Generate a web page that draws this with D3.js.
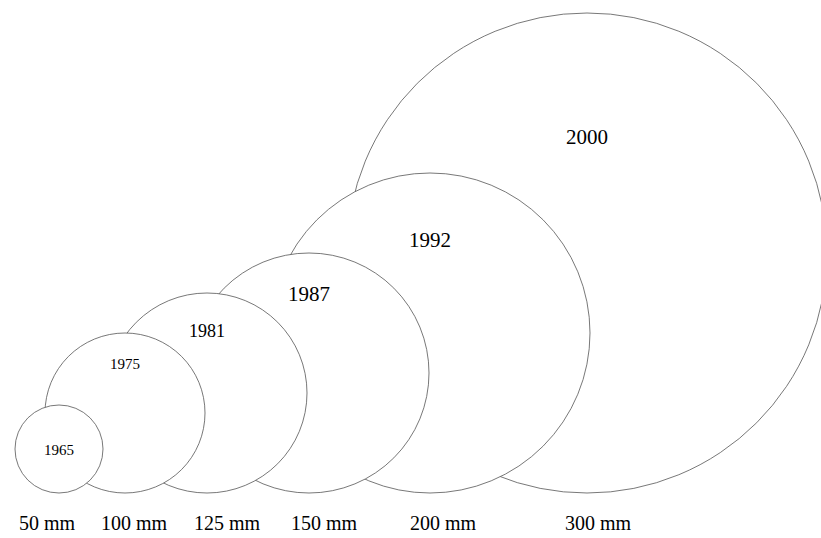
<!DOCTYPE html>
<html>
<head>
<meta charset="utf-8">
<script src="https://cdn.jsdelivr.net/npm/d3@7"></script>
<style>
  body { margin: 0; background: #fff; }
  text { font-family: "Liberation Serif", "Times New Roman", serif; fill: #000; }
</style>
</head>
<body>
<svg id="chart"></svg>
<script>
// Wafer sizes by year of introduction

// ----------------------------------------------------------------------------
// Data
// ----------------------------------------------------------------------------
var years = ["1965", "1975", "1981", "1987", "1992", "2000"];
var diameters = [50, 100, 125, 150, 200, 300];
var sizeLabels = ["50 mm", "100 mm", "125 mm", "150 mm", "200 mm", "300 mm"];

// ----------------------------------------------------------------------------
// Layout
// ----------------------------------------------------------------------------
var width = 821, height = 538;
var baseY = 493;            // all wafers rest on this line

// circle centres and bottom label centres along the row
var centerX = d3.scaleOrdinal().domain(years).range([59, 125, 207, 309, 430, 587]);
var labelX = d3.scaleOrdinal().domain(years).range([47, 134, 227, 324, 443, 598]);
// where the year sits inside its wafer (fraction of radius above centre)
var yearLift = d3.scaleOrdinal().domain(years).range([-0.14, 0.55, 0.56, 0.6, 0.54, 0.455]);

var r = d3.scaleLinear().domain([50, 100, 300]).range([44, 80, 240]);
var fontSize = d3.scaleLinear().domain([100, 150]).range([15, 21]).clamp(true);

var data = years.map(function(y, i) {
    return { year: y, diameter: diameters[i], label: sizeLabels[i] };
});

var svg = d3.select("#chart")
    .attr("width", width)
    .attr("height", height);

// draw largest first so the smaller wafers sit on top
var ordered = data.slice().sort(function(a, b) { return b.diameter - a.diameter; });

var g = svg.selectAll("g.wafer")
    .data(ordered)
    .enter().append("g")
    .attr("class", "wafer");

g.append("circle")
    .attr("cx", function(d) { return centerX(d.year); })
    .attr("cy", function(d) { return baseY - r(d.diameter); })
    .attr("r", function(d) { return r(d.diameter); })
    .attr("fill", "#fff")
    .attr("stroke", "#555")
    .attr("stroke-width", 0.8);

g.append("text")
    .attr("x", function(d) { return centerX(d.year); })
    .attr("y", function(d) {
        var rad = r(d.diameter);
        return baseY - rad - yearLift(d.year) * rad;
    })
    .attr("text-anchor", "middle")
    .style("font-size", function(d) { return fontSize(d.diameter) + "px"; })
    .text(function(d) { return d.year; });

// size labels under the row
svg.selectAll("text.size")
    .data(data)
    .enter().append("text")
    .attr("class", "size")
    .attr("x", function(d) { return labelX(d.year); })
    .attr("y", 530)
    .attr("text-anchor", "middle")
    .style("font-size", "20px")
    .text(function(d) { return d.label; });
</script>
</body>
</html>
